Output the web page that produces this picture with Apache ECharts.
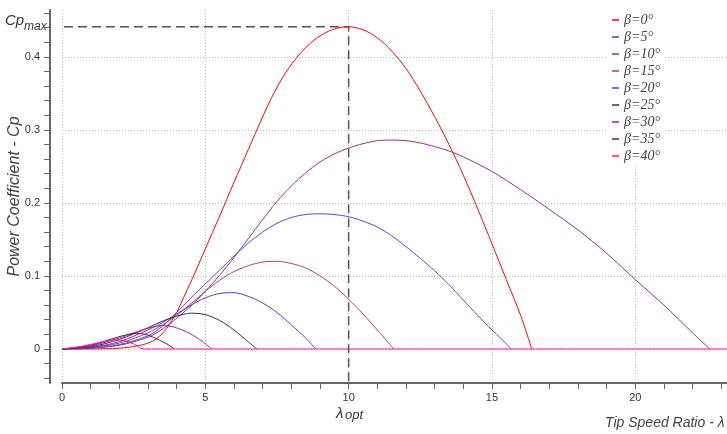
<!DOCTYPE html>
<html lang="en">
<head>
	<meta charset="UTF-8">
	<title>Cp - lambda</title>
	<style>
		body, div {
			margin: 0;
			padding: 0;
		}
		#main {
			width: 727px;
			height: 434px;
		}
	</style>
</head>
<body>
	<div id="main"></div>

	<script src="https://cdn.jsdelivr.net/npm/echarts@6/dist/echarts.min.js"></script>

	<script>
    // pitch angles and line colours
    var betas = [0, 5, 10, 15, 20, 25, 30, 35, 40];
    var colors = ['#ff0000', '#9a2a8a', '#4a4ae0', '#b83a60', '#5838c8', '#303048', '#a020a8', '#701830', '#ff1493'];

    // Cp(lambda), one list per pitch angle
    var cp0 = [[0,0],[1,0],[2,0.001],[2.6,0.004],[3,0.008],[3.3,0.014],[3.65,0.028],[4,0.05],[4.3,0.075],[4.6,0.101],[5,0.137],[5.5,0.182],[6,0.228],[6.5,0.273],[6.8,0.3],[7.3,0.343],[7.8,0.378],[8.3,0.404],[8.8,0.423],[9.3,0.435],[9.7,0.44],[10,0.441],[10.5,0.437],[11,0.426],[11.5,0.408],[12,0.384],[12.5,0.353],[13,0.318],[13.5,0.28],[14,0.238],[14.5,0.192],[15,0.144],[15.5,0.095],[16,0.046],[16.39,0]];
    var cp5 = [[0,0],[1,0.001],[2,0.005],[3,0.016],[3.5,0.027],[4,0.042],[4.5,0.059],[5,0.079],[5.5,0.101],[6,0.125],[6.5,0.151],[7,0.177],[7.5,0.202],[8,0.223],[8.5,0.241],[9,0.256],[9.5,0.267],[10,0.275],[10.5,0.281],[11,0.285],[11.5,0.286],[12,0.285],[12.5,0.282],[13,0.277],[13.5,0.271],[14,0.263],[15,0.243],[16,0.218],[17,0.191],[18,0.163],[19,0.131],[20,0.095],[21,0.06],[22,0.022],[22.6,0]];
    var cp10 = [[0,0],[1,0.001],[2,0.006],[3,0.018],[3.5,0.031],[4,0.05],[4.5,0.07],[5,0.089],[5.5,0.108],[6,0.127],[6.5,0.145],[7,0.16],[7.5,0.172],[8,0.18],[8.5,0.184],[9,0.185],[9.5,0.184],[10,0.181],[10.5,0.175],[11,0.167],[11.5,0.155],[12,0.14],[12.5,0.124],[13,0.107],[13.5,0.088],[14,0.067],[14.5,0.046],[15,0.026],[15.3,0.015],[15.67,0]];
    var cp15 = [[0,0],[1,0.002],[2,0.008],[3,0.022],[3.5,0.033],[4,0.046],[4.5,0.062],[5,0.079],[5.5,0.094],[6,0.106],[6.5,0.114],[7,0.119],[7.5,0.12],[8,0.117],[8.5,0.111],[9,0.1],[9.5,0.086],[10,0.068],[10.5,0.048],[11,0.026],[11.57,0]];
    var cp20 = [[0,0],[1,0.002],[2,0.01],[3,0.026],[3.5,0.036],[4,0.048],[4.5,0.06],[5,0.07],[5.5,0.076],[6,0.077],[6.5,0.072],[7,0.063],[7.5,0.05],[8,0.033],[8.5,0.015],[8.85,0]];
    var cp25 = [[0,0],[1,0.003],[2,0.013],[3,0.029],[3.5,0.038],[4,0.045],[4.5,0.049],[5,0.047],[5.5,0.039],[6,0.026],[6.4,0.013],[6.8,0]];
    var cp30 = [[0,0],[1,0.004],[2,0.015],[2.8,0.026],[3.5,0.032],[3.9,0.03],[4.47,0.021],[4.9,0.01],[5.22,0]];
    var cp35 = [[0,0],[1,0.005],[1.6,0.012],[2.1,0.018],[2.6,0.0215],[3,0.019],[3.4,0.012],[3.7,0.006],[3.92,0]];
    var cp40 = [[0,0],[0.6,0.003],[1.2,0.008],[1.8,0.0123],[2.2,0.011],[2.5,0.007],[2.84,0],[23.2,0]];
    var curves = [cp0, cp5, cp10, cp15, cp20, cp25, cp30, cp35, cp40];

    // axes
    var xTicks = [0,1,2,3,4,5,6,7,8,9,10,11,12,13,14,15,16,17,18,19,20,21,22,23];
    var xLabels = [0, 5, 10, 15, 20];
    var yTicks = [-0.04,-0.02,0,0.02,0.04,0.06,0.08,0.1,0.12,0.14,0.16,0.18,0.2,0.22,0.24,0.26,0.28,0.3,0.32,0.34,0.36,0.38,0.4,0.42,0.44,0.46];
    var yLabels = [0, 0.1, 0.2, 0.3, 0.4];

    // optimum point
    var cpMax = 0.441;
    var lambdaOpt = 10;

    var xMin = 0, xMax = 23.2;
    var yMin = -0.0466, yMax = 0.464;
    // the y axis sits 12px left of x=0, this is that gap in x units
    var axisGap = -0.42;

    var myEcharts = echarts.init(document.getElementById('main'));

    var names = betas.map(function(b) { return 'β=' + b + '°'; });

    var series = curves.map(function(d, i) {
        return {
            name: names[i],
            type: 'line',
            data: d,
            showSymbol: false,
            smooth: 0.3,
            lineStyle: { width: 1, color: colors[i] },
            itemStyle: { color: colors[i] },
            emphasis: { disabled: true }
        };
    });

    // dashed guide to Cp max / lambda opt
    series.unshift({
        name: 'opt',
        type: 'line',
        data: [[axisGap, cpMax], [lambdaOpt, cpMax], [lambdaOpt, yMin]],
        showSymbol: false,
        clip: false,
        silent: true,
        lineStyle: { color: '#555', width: 1.5, type: [9, 5] }
    });

    var labelFont = 'Liberation Sans';
    var gridLine = { show: true, lineStyle: { color: '#bbb', type: [1, 2], width: 1 } };

    var options = {
        animation: false,
        grid: { left: 62, right: 0, top: 10, bottom: 51, outerBoundsMode: 'none' },
        legend: {
            orient: 'vertical',
            left: 607,
            top: 10,
            padding: [3, 5, 3, 5],
            itemWidth: 7,
            itemHeight: 1.5,
            itemGap: 3,
            icon: 'rect',
            backgroundColor: '#fff',
            data: names,
            textStyle: { fontFamily: 'Liberation Serif', fontStyle: 'italic', fontSize: 14, lineHeight: 14, color: '#444' }
        },
        xAxis: [
            {
                type: 'value', min: xMin, max: xMax,
                axisLine: { show: true, onZero: false, lineStyle: { color: '#666', width: 2 } },
                axisTick: { show: true, length: 6, customValues: xTicks, lineStyle: { color: '#666', width: 1 } },
                axisLabel: { customValues: xLabels, color: '#333', fontSize: 11, fontFamily: labelFont, margin: 9 },
                splitLine: { show: false }
            },
            {
                type: 'value', min: xMin, max: xMax,
                axisLine: { show: false },
                axisTick: { show: false, customValues: xLabels },
                axisLabel: { show: false },
                splitLine: gridLine
            }
        ],
        yAxis: [
            {
                type: 'value', min: yMin, max: yMax, position: 'left', offset: 12,
                axisLine: { show: true, onZero: false, lineStyle: { color: '#666', width: 2 } },
                axisTick: { show: true, length: 6, customValues: yTicks, lineStyle: { color: '#666', width: 1 } },
                axisLabel: { customValues: yLabels, color: '#333', fontSize: 11, fontFamily: labelFont, margin: 10 },
                splitLine: { show: false },
                name: 'Power Coefficient - Cp',
                nameLocation: 'middle',
                nameGap: 27,
                nameMoveOverlap: false,
                nameTextStyle: { fontFamily: labelFont, fontStyle: 'italic', fontSize: 16, color: '#444' }
            },
            {
                type: 'value', min: yMin, max: yMax, position: 'left',
                axisLine: { show: false },
                axisTick: { show: false, customValues: yLabels },
                axisLabel: { show: false },
                splitLine: gridLine
            }
        ],
        graphic: [
            { type: 'text', left: 5, top: 13, style: { text: 'Cp', font: 'italic 15px Liberation Sans', fill: '#333' } },
            { type: 'text', left: 24, top: 21, style: { text: 'max', font: 'italic 12px Liberation Sans', fill: '#333' } },
            { type: 'text', left: 336, top: 406, style: { text: 'λ', font: 'italic 15px Liberation Sans', fill: '#333' } },
            { type: 'text', left: 345, top: 409, style: { text: 'opt', font: 'italic 13px Liberation Sans', fill: '#333' } },
            { type: 'text', left: 605, top: 416, style: { text: 'Tip Speed Ratio - λ', font: 'italic 14px Liberation Sans', fill: '#444' } }
        ],
        series: series
    };

    myEcharts.setOption(options);
	</script>

</body>
</html>
